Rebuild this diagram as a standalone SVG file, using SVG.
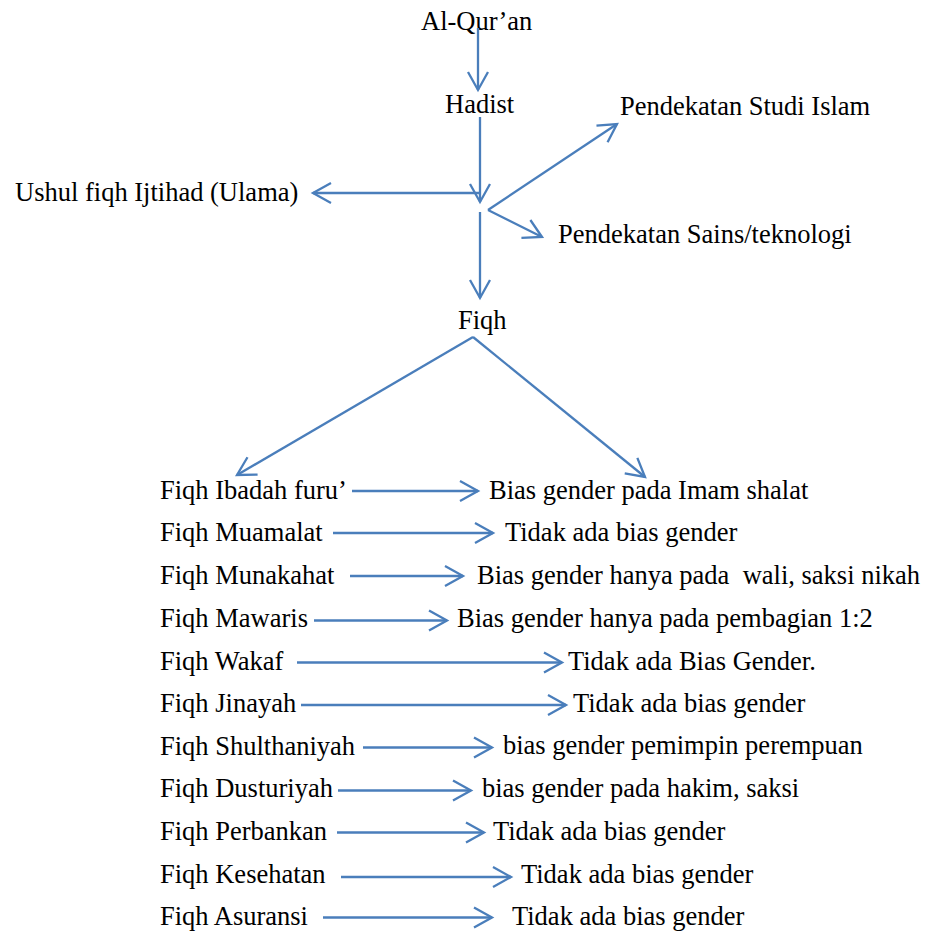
<svg xmlns="http://www.w3.org/2000/svg" width="926" height="933" viewBox="0 0 926 933">
<style>
text{font-family:"Liberation Serif","Times New Roman",serif;font-size:26.5px;fill:#000;white-space:pre}
.c line{stroke:#4a7ebb;stroke-width:2.3;fill:none;marker-end:url(#ah)}
</style>
<defs>
<marker id="ah" markerUnits="userSpaceOnUse" markerWidth="30" markerHeight="30" viewBox="-24 -15 30 30" refX="0" refY="0" orient="auto">
<path d="M-18,-10 L0,0 L-18,10" fill="none" stroke="#4a7ebb" stroke-width="2.3"/>
</marker>
</defs>
<rect width="926" height="933" fill="#fff"/>
<g id="n-alquran"><text x="421" y="30">Al-Qur’an</text></g>
<g id="n-hadist"><text x="445" y="113">Hadist</text></g>
<g id="n-ushul"><text x="15" y="201">Ushul fiqh Ijtihad (Ulama)</text></g>
<g id="n-studi"><text x="620" y="115">Pendekatan Studi Islam</text></g>
<g id="n-sains"><text x="558" y="243">Pendekatan Sains/teknologi</text></g>
<g id="n-fiqh"><text x="458" y="329">Fiqh</text></g>
<g id="n-l1"><text x="160" y="499">Fiqh Ibadah furu’</text></g>
<g id="n-l2"><text x="160" y="541">Fiqh Muamalat</text></g>
<g id="n-l3"><text x="160" y="584">Fiqh Munakahat</text></g>
<g id="n-l4"><text x="160" y="627">Fiqh Mawaris</text></g>
<g id="n-l5"><text x="160" y="670">Fiqh Wakaf</text></g>
<g id="n-l6"><text x="160" y="712">Fiqh Jinayah</text></g>
<g id="n-l7"><text x="160" y="755">Fiqh Shulthaniyah</text></g>
<g id="n-l8"><text x="160" y="797">Fiqh Dusturiyah</text></g>
<g id="n-l9"><text x="160" y="840">Fiqh Perbankan</text></g>
<g id="n-l10"><text x="160" y="883">Fiqh Kesehatan</text></g>
<g id="n-l11"><text x="160" y="925">Fiqh Asuransi</text></g>
<g id="n-r1"><text x="489" y="499">Bias gender pada Imam shalat</text></g>
<g id="n-r2"><text x="505" y="541">Tidak ada bias gender</text></g>
<g id="n-r3"><text x="477" y="584">Bias gender hanya pada  wali, saksi nikah</text></g>
<g id="n-r4"><text x="457" y="627">Bias gender hanya pada pembagian 1:2</text></g>
<g id="n-r5"><text x="568" y="670">Tidak ada Bias Gender.</text></g>
<g id="n-r6"><text x="573" y="712">Tidak ada bias gender</text></g>
<g id="n-r7"><text x="503" y="754">bias gender pemimpin perempuan</text></g>
<g id="n-r8"><text x="482" y="797">bias gender pada hakim, saksi</text></g>
<g id="n-r9"><text x="493" y="840">Tidak ada bias gender</text></g>
<g id="n-r10"><text x="521" y="883">Tidak ada bias gender</text></g>
<g id="n-r11"><text x="512" y="925">Tidak ada bias gender</text></g>
<g id="connectors" class="c">
<line x1="478" y1="28" x2="478" y2="90"/>
<line x1="480" y1="117" x2="480" y2="202"/>
<line x1="480" y1="193" x2="313" y2="193"/>
<line x1="480" y1="212" x2="480" y2="298"/>
<line x1="488" y1="210" x2="617" y2="124"/>
<line x1="488" y1="210" x2="542" y2="237"/>
<line x1="473" y1="337" x2="237" y2="475"/>
<line x1="473" y1="337" x2="645" y2="477"/>
<line x1="352" y1="491" x2="478" y2="491"/>
<line x1="333" y1="533" x2="493" y2="533"/>
<line x1="350" y1="576" x2="463" y2="576"/>
<line x1="314" y1="620.5" x2="447" y2="620.5"/>
<line x1="297" y1="662.5" x2="562" y2="662.5"/>
<line x1="301" y1="705" x2="566" y2="705"/>
<line x1="363" y1="747.5" x2="492" y2="747.5"/>
<line x1="338" y1="790.5" x2="471" y2="790.5"/>
<line x1="337" y1="832.5" x2="484" y2="832.5"/>
<line x1="341" y1="877" x2="511" y2="877"/>
<line x1="323" y1="917.5" x2="492" y2="917.5"/>
</g>
</svg>
